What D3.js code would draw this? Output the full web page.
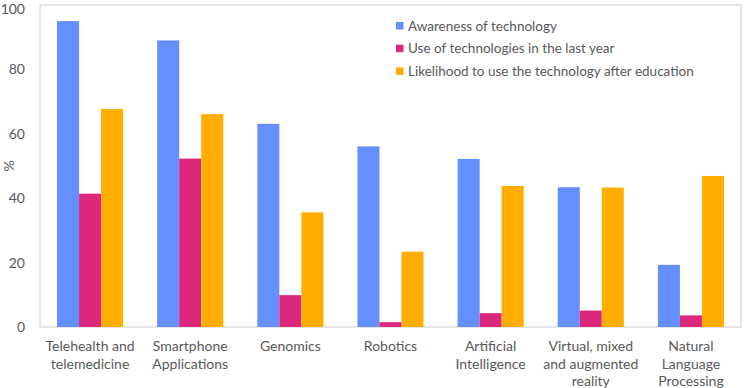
<!DOCTYPE html>
<html>
<head>
<meta charset="utf-8">
<script src="https://cdn.jsdelivr.net/npm/d3@7"></script>
<style>
  html,body{margin:0;padding:0;background:#fff;}
  svg{display:block;font-family:Lato,"Open Sans",sans-serif;}
</style>
</head>
<body>
<svg id="chart" width="744" height="388"></svg>
<script>
/* ----- data ------------------------------------------------- */
const categories = [
  ['Telehealth and','telemedicine'],
  ['Smartphone','Applications'],
  ['Genomics'],
  ['Robotics'],
  ['Artificial','Intelligence'],
  ['Virtual, mixed','and augmented','reality'],
  ['Natural','Language','Processing']
];
const seriesNames = [
  'Awareness of technology',
  'Use of technologies in the last year',
  'Likelihood to use the technology after education'
];
const awareness  = [95.0, 89.0, 63.1, 56.1, 52.2, 43.4, 19.3];
const useLastYr  = [41.4, 52.3,  9.9,  1.5,  4.3,  5.1,  3.6];
const likelihood = [67.7, 66.1, 35.6, 23.4, 43.8, 43.3, 46.9];
const yTicks     = [0, 20, 40, 60, 80, 100];
const colours    = ['#658EFF', '#DC287C', '#FFAE00'];

/* ----- setup ------------------------------------------------ */
const svg = d3.select('#chart'),
      M   = {left:40, right:3, top:5, bottom:61},
      W   = +svg.attr('width'),
      H   = +svg.attr('height'),
      PW  = W - M.left - M.right,
      PH  = H - M.top - M.bottom,
      g   = svg.append('g').attr('transform',`translate(${M.left},${M.top})`);

const series = [awareness, useLastYr, likelihood];
const idx = d3.range(categories.length);

const x  = d3.scaleBand().domain(idx).range([0,PW]).paddingInner(0.34).paddingOuter(0.17);
const xs = d3.scaleBand().domain([0,1,2]).range([0,x.bandwidth()]);
const y  = d3.scaleLinear().domain([0,100]).range([PH,0]);

/* frame */
g.append('rect')
  .attr('x',0).attr('y',0).attr('width',PW).attr('height',PH)
  .attr('fill','none').attr('stroke','#d9d9d9').attr('stroke-width',1.3);

/* y axis labels (top one kept inside the page) */
g.append('g')
  .selectAll('text').data(yTicks).join('text')
    .attr('x',-15).attr('y',d=>Math.max(y(d),4)).attr('dy','0.35em')
    .attr('text-anchor','end')
    .style('fill','#595959').style('font-size','14px')
    .text(d=>d);

svg.append('text')
  .attr('transform',`translate(14,${M.top+PH/2}) rotate(-90)`)
  .attr('text-anchor','middle')
  .style('fill','#595959').style('font-size','14px')
  .text('%');

/* bars */
series.forEach((vals,s)=>{
  g.append('g').selectAll('rect').data(idx).join('rect')
    .attr('x',i=>x(i)+xs(s))
    .attr('y',i=>y(vals[i]))
    .attr('width',xs.bandwidth())
    .attr('height',i=>PH - y(vals[i]))
    .attr('fill',colours[s]);
});

/* x labels */
const xl = g.append('g').selectAll('text').data(idx).join('text')
  .attr('x',i=>x(i)+x.bandwidth()/2)
  .attr('y',PH+24)
  .attr('text-anchor','middle')
  .style('fill','#595959').style('font-size','14px');
xl.each(function(i){
  d3.select(this).selectAll('tspan').data(categories[i]).join('tspan')
    .attr('x',x(i)+x.bandwidth()/2)
    .attr('dy',(d,k)=>k===0?0:17.5)
    .text(d=>d);
});

/* legend */
const lg = svg.append('g').attr('transform','translate(396,26)');
seriesNames.forEach((n,s)=>{
  const r = lg.append('g').attr('transform',`translate(0,${s*22.7})`);
  r.append('rect').attr('x',0).attr('y',-4).attr('width',7.5).attr('height',7.5)
    .attr('fill',colours[s]);
  r.append('text').attr('x',12).attr('y',0).attr('dy','0.35em')
    .style('fill','#595959').style('font-size','13.5px')
    .text(n);
});
</script>
</body>
</html>
